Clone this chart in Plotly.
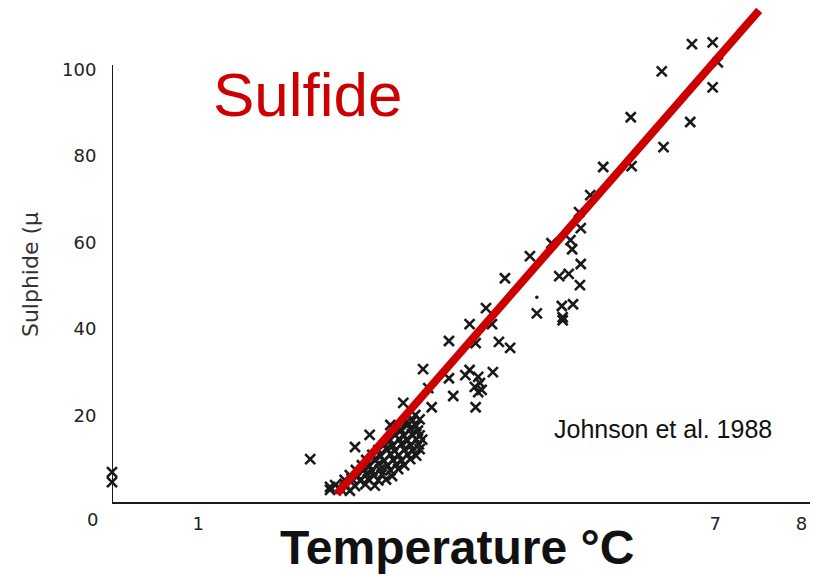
import plotly.graph_objects as go

# Measured sulphide vs temperature (individual samples)
temp_c = [
    0.00, 0.00,
    2.30, 2.53, 2.82, 2.99, 3.23, 3.34, 3.38, 3.52, 3.42,
    3.61, 3.67, 3.71, 3.91, 3.91, 3.96,
    4.10, 4.15, 4.15, 4.21, 4.22, 4.22, 4.25, 4.25, 4.27, 4.29,
    4.34, 4.41, 4.42, 4.49, 4.56, 4.62,
    4.85, 4.93, 5.10, 5.19, 5.22, 5.23, 5.23, 5.30, 5.32, 5.34, 5.35,
    5.42, 5.43, 5.44, 5.44, 5.55, 5.70,
    6.02, 6.03, 6.38, 6.40, 6.71, 6.73, 6.97, 6.97, 7.03,
]
sulphide = [
    6.9, 4.6,
    9.9, 3.5, 12.7, 15.5, 17.8, 16.6, 22.9, 20.1, 18.5,
    30.7, 26.3, 21.9, 37.2, 28.6, 24.5,
    29.3, 41.1, 30.5, 26.6, 36.7, 21.9, 28.9, 25.4, 27.5, 25.9,
    44.8, 41.1, 30.0, 37.0, 51.7, 35.6,
    56.8, 43.6, 59.8, 52.2, 45.3, 42.7, 42.0, 52.7, 60.5, 58.4, 45.7,
    67.0, 50.1, 63.3, 55.0, 70.9, 77.4,
    88.9, 77.6, 99.5, 82.0, 87.8, 105.8, 106.2, 95.8, 101.6,
]

# Dense group of low-temperature samples
cluster_temp = [
    2.53, 2.65, 2.76,
    2.59, 2.70, 2.82, 2.94, 3.05,
    2.70, 2.78, 2.88, 2.97, 3.09, 3.18,
    2.76, 2.85, 2.95, 3.04, 3.13, 3.25,
    2.83, 2.92, 3.02, 3.11, 3.23, 3.32,
    2.90, 2.99, 3.09, 3.20, 3.30, 3.39,
    2.95, 3.05, 3.16, 3.26, 3.36, 3.46,
    3.02, 3.12, 3.23, 3.33, 3.43, 3.53,
    3.09, 3.18, 3.28, 3.39, 3.49, 3.57,
    3.16, 3.26, 3.36, 3.47, 3.56,
    3.23, 3.33, 3.43, 3.53, 3.60,
    3.28, 3.39, 3.48, 3.57,
    3.36, 3.46, 3.55,
    3.43, 3.53,
    3.49, 3.57,
]
cluster_sulphide = [
    2.8, 3.1, 2.6,
    3.9, 4.2, 3.7, 4.1, 3.8,
    5.1, 5.4, 4.9, 5.3, 5.0, 5.2,
    6.2, 6.0, 6.5, 6.1, 6.4, 6.0,
    7.4, 7.7, 7.2, 7.5, 7.3, 7.6,
    8.5, 8.3, 8.8, 8.4, 8.7, 8.5,
    9.7, 9.9, 9.5, 9.8, 9.6, 9.9,
    10.9, 10.6, 11.1, 10.8, 11.0, 10.7,
    12.0, 12.3, 11.8, 12.1, 11.9, 12.2,
    13.2, 13.0, 13.4, 13.1, 13.3,
    14.3, 14.6, 14.2, 14.5, 14.4,
    15.5, 15.3, 15.7, 15.4,
    16.6, 16.9, 16.5,
    17.8, 17.6,
    18.9, 19.1,
]

# Single small dot sample
dot_temp = [4.93]
dot_sulphide = [47.3]

# Trend line end points
fit_temp = [2.61, 7.51]
fit_sulphide = [1.85, 113.6]

x_ticks = [1, 7, 8]
y_ticks = [20, 40, 60, 80, 100]

INK = "#1a1a1a"
RED = "#cc0000"

fig = go.Figure()

marker_style = dict(symbol="x-thin", size=10, color=INK,
                    line=dict(width=2.6, color=INK))

fig.add_trace(go.Scatter(x=cluster_temp, y=cluster_sulphide, mode="markers",
                         marker=marker_style, cliponaxis=False, showlegend=False))
fig.add_trace(go.Scatter(x=temp_c, y=sulphide, mode="markers",
                         marker=marker_style, cliponaxis=False, showlegend=False))
fig.add_trace(go.Scatter(x=dot_temp, y=dot_sulphide, mode="markers",
                         marker=dict(symbol="circle", size=3.5, color=INK),
                         showlegend=False))
fig.add_trace(go.Scatter(x=fit_temp, y=fit_sulphide, mode="lines",
                         line=dict(color=RED, width=8), cliponaxis=False,
                         showlegend=False))

tick_font = dict(family="DejaVu Sans", size=18, color="#222222")

fig.update_xaxes(range=[0, 8.1], showgrid=False, zeroline=False,
                 showline=True, linecolor=INK, linewidth=2,
                 tickmode="array", tickvals=x_ticks,
                 ticktext=[str(v) for v in x_ticks],
                 ticks="outside", ticklen=4, tickcolor="rgba(0,0,0,0)",
                 tickfont=tick_font)
fig.update_yaxes(range=[0, 116], showgrid=False, zeroline=False,
                 showline=False,
                 tickmode="array", tickvals=y_ticks,
                 ticktext=[str(v) for v in y_ticks],
                 ticks="outside", ticklen=11, tickcolor="rgba(0,0,0,0)",
                 tickfont=tick_font)

# Vertical axis only runs up to 100
fig.add_shape(type="line", xref="x", yref="y", x0=0, x1=0, y0=0, y1=101,
              line=dict(color=INK, width=2))

fig.add_annotation(x=0, y=0, xref="x", yref="y", text="0", showarrow=False,
                   xshift=-20, yshift=-17, font=tick_font)

fig.add_annotation(x=0.281, y=0.811, xref="paper", yref="paper",
                   text="Sulfide", showarrow=False,
                   xanchor="center", yanchor="middle",
                   font=dict(family="Liberation Sans", size=62, color=RED))
fig.add_annotation(x=0.790, y=0.145, xref="paper", yref="paper",
                   text="Johnson et al. 1988", showarrow=False,
                   xanchor="center", yanchor="middle",
                   font=dict(family="Liberation Sans", size=25, color="#111111"))
fig.add_annotation(x=0.494, y=-0.090, xref="paper", yref="paper",
                   text="<b>Temperature °C</b>", showarrow=False,
                   xanchor="center", yanchor="middle",
                   font=dict(family="Liberation Sans", size=48, color="#111111"))
fig.add_annotation(x=-0.1175, y=0.454, xref="paper", yref="paper",
                   text="Sulphide (μ", showarrow=False, textangle=-90,
                   xanchor="center", yanchor="middle",
                   font=dict(family="DejaVu Sans", size=22, color="#333333"))

fig.update_layout(width=814, height=576,
                  margin=dict(l=112, r=4, t=0, b=74),
                  paper_bgcolor="white", plot_bgcolor="white")

fig.write_html("out.html")
